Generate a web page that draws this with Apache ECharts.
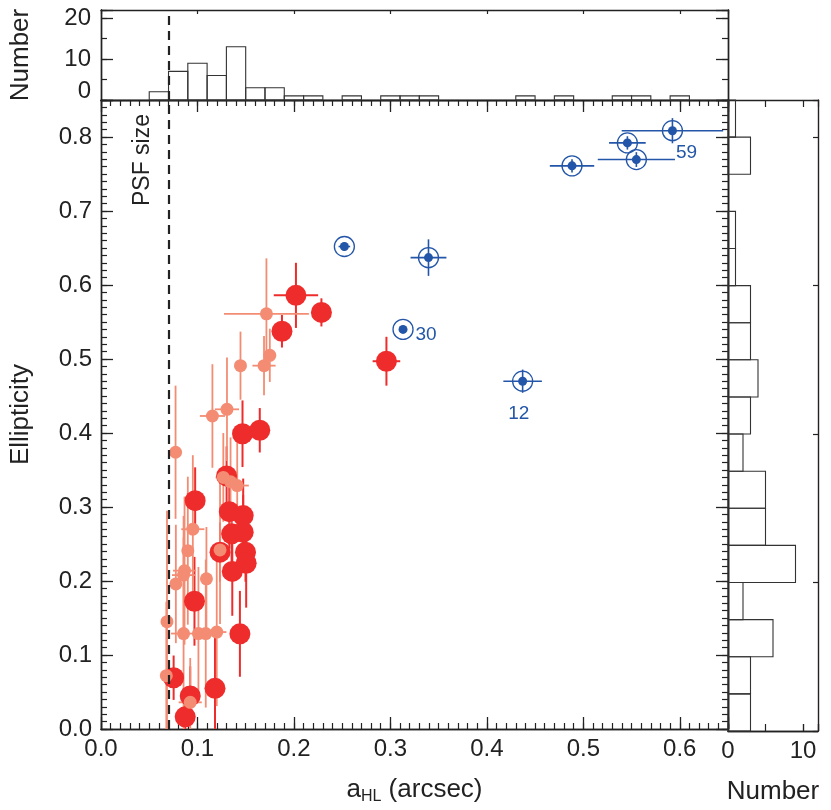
<!DOCTYPE html>
<html><head><meta charset="utf-8">
<script src="https://cdn.jsdelivr.net/npm/echarts@6/dist/echarts.min.js"></script>
<style>html,body{margin:0;padding:0;background:#fff}#c{width:831px;height:810px}</style>
</head><body><div id="c"></div>
<script>
// ---------------- data ----------------
const psfSize = 0.069;

// top histogram of a_HL (arcsec): bin lower edge, upper edge, count
const topBinLo    = [0.05,0.07,0.09,0.11,0.13,0.15,0.17,0.19,0.21,0.25,0.29,0.31,0.33,0.43,0.47,0.53,0.55,0.59];
const topBinHi    = [0.07,0.09,0.11,0.13,0.15,0.17,0.19,0.21,0.23,0.27,0.31,0.33,0.35,0.45,0.49,0.55,0.57,0.61];
const topBinCount = [2,7,9,6,13,3,3,1,1,1,1,1,1,1,1,1,1,1];

// right histogram of ellipticity: bin lower edge, upper edge, count
const rightBinLo    = [0.00,0.05,0.10,0.15,0.20,0.25,0.30,0.35,0.40,0.45,0.50,0.55,0.60,0.65,0.70,0.75,0.80];
const rightBinHi    = [0.05,0.10,0.15,0.20,0.25,0.30,0.35,0.40,0.45,0.50,0.55,0.60,0.65,0.70,0.75,0.80,0.85];
const rightBinCount = [3,3,6,2,9,5,5,2,3,4,3,3,1,1,0,3,1];

// large red points
const redX    = [0.2021,0.2285,0.1876,0.2959,0.1467,0.1646,0.1302,0.0976,0.1330,0.1474,0.1354,0.1474,0.1234,0.1498,0.1361,0.1505,0.0969,0.1440,0.0753,0.0925,0.1182,0.0873];
const redY    = [0.586,0.563,0.5375,0.497,0.399,0.4037,0.342,0.3086,0.2937,0.2884,0.2637,0.266,0.239,0.239,0.213,0.224,0.1726,0.1286,0.0693,0.0447,0.055,0.0164];
const redXErr = [0.023,0.004,0.002,0.0143,0.003,0.003,0.008,0.003,0.008,0.003,0.003,0.003,0.003,0.003,0.003,0.003,0.003,0.003,0.003,0.003,0.003,0.003];
const redYErr = [0.044,0.019,0.022,0.033,0.045,0.03,0.04,0.045,0.05,0.05,0.04,0.05,0.04,0.04,0.06,0.06,0.06,0.058,0.03,0.04,0.07,0.03];

// small salmon points
const salX    = [0.1715,0.1446,0.169,0.175,0.1306,0.1155,0.0773,0.1268,0.1343,0.1412,0.0952,0.1234,0.090,0.0866,0.0856,0.0776,0.1093,0.0684,0.0856,0.101,0.1086,0.120,0.0677,0.0925];
const salY    = [0.561,0.491,0.491,0.505,0.432,0.423,0.374,0.340,0.334,0.329,0.270,0.242,0.241,0.214,0.208,0.196,0.203,0.145,0.129,0.129,0.129,0.131,0.072,0.036];
const salXErr = [0.044,0.003,0.012,0.004,0.0125,0.013,0,0.008,0.005,0.012,0.012,0.005,0.005,0.012,0.012,0.005,0.004,0.003,0.013,0.006,0.006,0.01,0.004,0.012];
const salYErr = [0.075,0.046,0.04,0.036,0.07,0.07,0.09,0.06,0.06,0.06,0.1,0.1,0.1,0.1,0.08,0.08,0.07,0.15,0.13,0.09,0.1,0.1,0.1,0.06];

// blue ringed points
const blueX    = [0.2523,0.3395,0.3131,0.4371,0.4883,0.5457,0.555,0.5924];
const blueY    = [0.652,0.637,0.540,0.470,0.761,0.792,0.7695,0.8085];
const blueXErr = [0.006,0.0186,0,0.020,0.023,0.019,0.040,0.0526];
const blueYErr = [0.006,0.0247,0,0.0157,0.009,0.009,0.010,0.017];
const blueIds  = ['','','30','12','','','','59'];

// ---------------- styles ----------------
const FONT = "'Liberation Sans', Arial, Helvetica, sans-serif";
const INK = '#222';
const RED = '#EE2C2C', SAL = '#F48C74', BLUE = '#2356A8';
const TICK_FS = 24, TITLE_FS = 26;

const isMult = (v, step) => Math.abs(v / step - Math.round(v / step)) < 1e-6;

function axisBase(extra) {
  return Object.assign({
    type: 'value',
    axisLine: { show: true, onZero: false, lineStyle: { color: INK, width: 1.4 } },
    axisTick: { show: true, inside: true, length: 12, lineStyle: { color: INK, width: 1.3 } },
    axisLabel: { show: false },
    splitLine: { show: false }
  }, extra);
}
function ticks(len) { return { show: true, inside: true, length: len, lineStyle: { color: INK, width: 1.2 } }; }

const errRender = (color, width) => function (params, api) {
  const x = api.value(0), y = api.value(1), dx = api.value(2), dy = api.value(3);
  const l = api.coord([x - dx, y]), r = api.coord([x + dx, y]);
  const t = api.coord([x, y + dy]), b = api.coord([x, y - dy]);
  const style = { stroke: color, lineWidth: width };
  return { type: 'group', children: [
    { type: 'line', shape: { x1: l[0], y1: l[1], x2: r[0], y2: r[1] }, style },
    { type: 'line', shape: { x1: t[0], y1: t[1], x2: b[0], y2: b[1] }, style }
  ]};
};

const zip4 = (a, b, c, d) => a.map((v, i) => [v, b[i], c[i], d[i]]);

const chart = echarts.init(document.getElementById('c'), null, { renderer: 'canvas' });

const psfLine = { silent: true, symbol: 'none', label: { show: false },
  lineStyle: { color: INK, width: 2.2, type: [9, 6] }, data: [{ xAxis: psfSize }] };

const option = {
  backgroundColor: '#fff',
  animation: false,
  textStyle: { fontFamily: FONT, color: INK },
  grid: [
    { left: 97, top: 100, width: 631, height: 632 },   // main
    { left: 97, top: 10, width: 631, height: 90 },     // top histogram
    { left: 728, top: 100, width: 90, height: 632 }    // right histogram
  ],
  xAxis: [
    // main grid
    axisBase({ gridIndex: 0, position: 'bottom', min: 0, max: 0.65, interval: 0.1,
      axisLabel: { show: true, fontSize: TICK_FS, fontFamily: FONT, color: INK, margin: 8,
        formatter: v => isMult(v, 0.1) ? v.toFixed(1) : '' },
      name: '{a|a}{s|HL}{a| (arcsec)}', nameLocation: 'middle', nameGap: 46,
      nameTextStyle: { rich: {
        a: { fontSize: TITLE_FS, fontFamily: FONT, color: INK },
        s: { fontSize: 16, fontFamily: FONT, color: INK, padding: [14, 0, 0, 0] } } } }),
    axisBase({ gridIndex: 0, position: 'bottom', min: 0, max: 0.65, interval: 0.01, axisTick: ticks(6) }),
    axisBase({ gridIndex: 0, position: 'top', min: 0, max: 0.65, interval: 0.1 }),
    axisBase({ gridIndex: 0, position: 'top', min: 0, max: 0.65, interval: 0.01, axisTick: ticks(6) }),
    // top histogram
    axisBase({ gridIndex: 1, position: 'bottom', min: 0, max: 0.65, axisTick: { show: false } }),
    axisBase({ gridIndex: 1, position: 'top', min: 0, max: 0.65, interval: 0.1, axisTick: ticks(4) }),
    // right histogram
    axisBase({ gridIndex: 2, position: 'bottom', min: 0, max: 12, interval: 10, axisTick: ticks(7),
      axisLabel: { show: true, fontSize: TICK_FS, fontFamily: FONT, color: INK, margin: 8,
        formatter: v => isMult(v, 10) ? String(v) : '' },
      name: 'Number', nameLocation: 'middle', nameGap: 48,
      nameTextStyle: { fontSize: TITLE_FS, fontFamily: FONT, color: INK } }),
    axisBase({ gridIndex: 2, position: 'bottom', min: 0, max: 12, interval: 5, axisTick: ticks(7) }),
    axisBase({ gridIndex: 2, position: 'top', min: 0, max: 12, interval: 5, axisTick: ticks(7) })
  ],
  yAxis: [
    // main grid
    axisBase({ gridIndex: 0, position: 'left', min: 0, max: 0.85, interval: 0.1,
      axisLabel: { show: true, fontSize: TICK_FS, fontFamily: FONT, color: INK, margin: 9,
        formatter: v => isMult(v, 0.1) ? v.toFixed(1) : '' },
      name: 'Ellipticity', nameLocation: 'middle', nameGap: 67,
      nameTextStyle: { fontSize: TITLE_FS, fontFamily: FONT, color: INK } }),
    axisBase({ gridIndex: 0, position: 'left', min: 0, max: 0.85, interval: 0.01, axisTick: ticks(6) }),
    axisBase({ gridIndex: 0, position: 'right', min: 0, max: 0.85, interval: 0.1 }),
    axisBase({ gridIndex: 0, position: 'right', min: 0, max: 0.85, interval: 0.01, axisTick: ticks(6) }),
    // top histogram
    axisBase({ gridIndex: 1, position: 'left', min: 0, max: 22, interval: 10,
      axisLabel: { show: true, fontSize: TICK_FS, fontFamily: FONT, color: INK, margin: 10,
        formatter: v => !isMult(v, 10) ? '' : (v === 0 ? '{up|0}' : String(v)),
        rich: { up: { fontSize: TICK_FS, fontFamily: FONT, color: INK, padding: [0, 0, 18, 0] } } },
      name: 'Number', nameLocation: 'middle', nameGap: 67,
      nameTextStyle: { fontSize: TITLE_FS, fontFamily: FONT, color: INK } }),
    axisBase({ gridIndex: 1, position: 'left', min: 0, max: 22, interval: 5, axisTick: ticks(6) }),
    axisBase({ gridIndex: 1, position: 'right', min: 0, max: 22, interval: 10 }),
    axisBase({ gridIndex: 1, position: 'right', min: 0, max: 22, interval: 5, axisTick: ticks(6) }),
    // right histogram
    axisBase({ gridIndex: 2, position: 'left', min: 0, max: 0.85, axisTick: { show: false } }),
    axisBase({ gridIndex: 2, position: 'right', min: 0, max: 0.85, interval: 0.2, axisTick: ticks(5) })
  ],
  graphic: [
    { type: 'text', x: 143, y: 160, rotation: Math.PI / 2,
      style: { text: 'PSF size', fontSize: 23, fontFamily: FONT, fill: INK, align: 'center', verticalAlign: 'middle' } }
  ],
  series: [
    { type: 'custom', name: 'topHist', xAxisIndex: 4, yAxisIndex: 4,
      data: topBinLo.map((v, i) => [v, topBinHi[i], topBinCount[i]]),
      renderItem: (params, api) => {
        const p0 = api.coord([api.value(0), 0]);
        const p1 = api.coord([api.value(1), api.value(2)]);
        return { type: 'rect', shape: { x: p0[0], y: p1[1], width: p1[0] - p0[0], height: p0[1] - p1[1] },
          style: { fill: 'none', stroke: '#333', lineWidth: 1.1 } };
      },
      markLine: psfLine },
    { type: 'custom', name: 'rightHist', xAxisIndex: 6, yAxisIndex: 8,
      data: rightBinLo.map((v, i) => [v, rightBinHi[i], rightBinCount[i]]),
      renderItem: (params, api) => {
        if (!api.value(2)) return null;
        const p0 = api.coord([0, api.value(0)]);
        const p1 = api.coord([api.value(2), api.value(1)]);
        return { type: 'rect', shape: { x: p0[0], y: p1[1], width: p1[0] - p0[0], height: p0[1] - p1[1] },
          style: { fill: 'none', stroke: '#333', lineWidth: 1.1 } };
      } },
    { type: 'custom', name: 'redErr', xAxisIndex: 0, yAxisIndex: 0, clip: true,
      data: zip4(redX, redY, redXErr, redYErr), renderItem: errRender(RED, 2),
      markLine: psfLine },
    { type: 'scatter', name: 'red', xAxisIndex: 0, yAxisIndex: 0, symbolSize: 21,
      itemStyle: { color: RED, opacity: 1 }, data: redX.map((v, i) => [v, redY[i]]) },
    { type: 'custom', name: 'salErr', xAxisIndex: 0, yAxisIndex: 0, clip: true,
      data: zip4(salX, salY, salXErr, salYErr), renderItem: errRender(SAL, 1.8) },
    { type: 'scatter', name: 'salmon', xAxisIndex: 0, yAxisIndex: 0, symbolSize: 13,
      itemStyle: { color: SAL, opacity: 1 }, data: salX.map((v, i) => [v, salY[i]]) },
    { type: 'custom', name: 'blueErr', xAxisIndex: 0, yAxisIndex: 0, clip: true,
      data: zip4(blueX, blueY, blueXErr, blueYErr), renderItem: errRender(BLUE, 1.6) },
    { type: 'scatter', name: 'blueRing', xAxisIndex: 0, yAxisIndex: 0, symbolSize: 20,
      itemStyle: { color: 'rgba(0,0,0,0)', borderColor: BLUE, borderWidth: 1.3, opacity: 1 },
      data: blueX.map((v, i) => [v, blueY[i]]) },
    { type: 'scatter', name: 'blue', xAxisIndex: 0, yAxisIndex: 0, symbolSize: 9,
      itemStyle: { color: BLUE, opacity: 1 },
      data: blueX.map((v, i) => {
        const pos = blueIds[i] === '30' ? [17, 0] : blueIds[i] === '12' ? [-10, 28] : [8, 17];
        return { value: [v, blueY[i]], label: { show: !!blueIds[i], formatter: blueIds[i], position: pos,
          fontSize: 19, fontFamily: FONT, color: BLUE } };
      }) }
  ]
};
chart.setOption(option);
</script>
</body></html>
